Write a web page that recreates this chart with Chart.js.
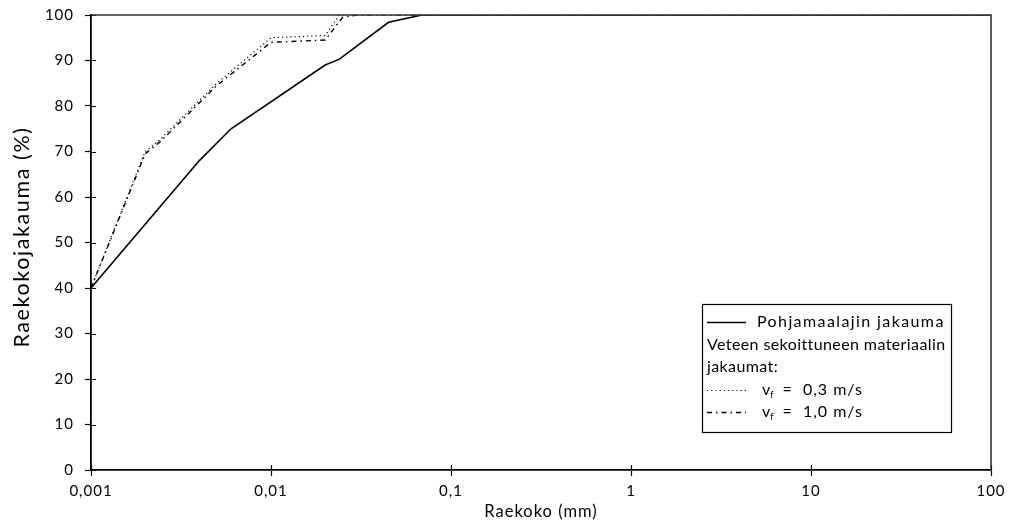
<!DOCTYPE html>
<html>
<head>
<meta charset="utf-8">
<script src="https://cdn.jsdelivr.net/npm/chart.js@4/dist/chart.umd.min.js"></script>
<style>
html,body{margin:0;padding:0;background:#fff;}
#c{display:block;}
</style>
</head>
<body>
<canvas id="c" width="1021" height="530"></canvas>
<script>
// ---- data ----
const xTickValues = [0.001, 0.01, 0.1, 1, 10, 100];
const yTickValues = [0, 10, 20, 30, 40, 50, 60, 70, 80, 90, 100];

const baseSize = [0.001, 0.004, 0.006, 0.02, 0.024, 0.045, 0.069, 100];
const baseCum  = [40, 68, 75, 89, 90.3, 98.4, 100, 100];

const v03Size = [0.001, 0.002, 0.0024, 0.005, 0.01, 0.02, 0.024, 100];
const v03Cum  = [40, 70, 72.5, 85, 95, 95.5, 100, 100];

const v10Size = [0.001, 0.002, 0.0024, 0.005, 0.01, 0.02, 0.025, 0.03, 100];
const v10Cum  = [40, 69.5, 72, 84.5, 94, 94.5, 99.5, 100, 100];

const seriesNames = ['Pohjamaalajin jakauma', 'v = 0,3 m/s', 'v = 1,0 m/s'];
const legendHeading = ['Veteen sekoittuneen materiaalin', 'jakaumat:'];
const yTitle = 'Raekokojakauma (%)';
const xTitle = 'Raekoko (mm)';

const FONT = 'Lato, "Open Sans", sans-serif';

function pts(xs, ys) { return xs.map((x, i) => ({x: x, y: ys[i]})); }
function fmt(v) { return String(v).replace('.', ','); }

const frameTicks = {
  id: 'frameTicks',
  beforeDraw(chart) {
    chart.ctx.letterSpacing = '1px';
  },
  afterDatasetsDraw(chart) {
    const {ctx, chartArea: a, scales} = chart;
    ctx.save();
    ctx.strokeStyle = '#000';
    ctx.lineWidth = 1.2;
    ctx.beginPath();
    yTickValues.forEach(v => {
      const y = Math.round(scales.y.getPixelForValue(v)) + 0.5;
      ctx.moveTo(a.left, y); ctx.lineTo(a.left + 5, y);
    });
    xTickValues.forEach(v => {
      const x = Math.round(scales.x.getPixelForValue(v)) + 0.5;
      ctx.moveTo(x, a.bottom); ctx.lineTo(x, a.bottom - 5);
    });
    ctx.stroke();
    ctx.strokeStyle = '#333';
    ctx.lineWidth = 1.6;
    ctx.beginPath();
    ctx.moveTo(a.left, a.top); ctx.lineTo(a.right, a.top); ctx.lineTo(a.right, a.bottom);
    ctx.stroke();
    ctx.restore();
  },
  afterDraw(chart) {
    const ctx = chart.ctx;
    const ds = chart.data.datasets;
    ctx.save();
    // y axis title
    ctx.save();
    ctx.translate(22, 237);
    ctx.rotate(-Math.PI / 2);
    ctx.font = '21.5px ' + FONT;
    ctx.letterSpacing = '1.6px';
    ctx.textAlign = 'center';
    ctx.textBaseline = 'middle';
    ctx.fillStyle = '#000';
    ctx.fillText(yTitle, 0, 0);
    ctx.restore();

    // legend box
    const bx = 702, by = 304, bw = 249, bh = 128;
    ctx.fillStyle = '#fff';
    ctx.fillRect(bx, by, bw, bh);
    ctx.strokeStyle = '#000';
    ctx.lineWidth = 1.2;
    ctx.strokeRect(bx + 0.5, by + 0.5, bw, bh);
    ctx.font = '16px ' + FONT;
    ctx.fillStyle = '#000';
    ctx.textBaseline = 'middle';
    const sample = (y, d) => {
      ctx.save();
      ctx.strokeStyle = d.borderColor;
      ctx.lineWidth = d.borderWidth;
      ctx.setLineDash(d.borderDash || []);
      ctx.beginPath(); ctx.moveTo(707, y); ctx.lineTo(746, y); ctx.stroke();
      ctx.restore();
    };
    sample(322.5, ds[0]);
    ctx.letterSpacing = '1.4px';
    ctx.fillText(seriesNames[0], 757, 322);
    ctx.letterSpacing = '0.4px';
    ctx.fillText(legendHeading[0], 707, 345);
    ctx.fillText(legendHeading[1], 707, 367);
    const vLine = (y, d, name) => {
      sample(y + 0.5, d);
      const rest = name.slice(1).replace(/ = /, '  =  ');
      ctx.letterSpacing = '1px';
      ctx.fillText('v', 762, y);
      const w = ctx.measureText('v').width;
      ctx.save();
      ctx.font = '9.5px ' + FONT;
      ctx.letterSpacing = '0px';
      ctx.fillText('f', 762 + w - 1, y + 5);
      ctx.restore();
      ctx.fillText(rest, 762 + w + 1, y);
    };
    vLine(390, ds[1], seriesNames[1]);
    vLine(412, ds[2], seriesNames[2]);
    ctx.restore();
    ctx.letterSpacing = '0px';
  }
};

new Chart(document.getElementById('c'), {
  type: 'scatter',
  data: {
    datasets: [
      {label: seriesNames[0], data: pts(baseSize, baseCum), showLine: true,
       borderColor: '#000', borderWidth: 1.6, pointRadius: 0, tension: 0},
      {label: seriesNames[1], data: pts(v03Size, v03Cum), showLine: true,
       borderColor: '#000', borderWidth: 1.2, borderDash: [1.2, 3], pointRadius: 0, tension: 0},
      {label: seriesNames[2], data: pts(v10Size, v10Cum), showLine: true,
       borderColor: '#000', borderWidth: 1.4, borderDash: [5, 4, 1.5, 4], pointRadius: 0, tension: 0}
    ]
  },
  options: {
    responsive: false,
    animation: false,
    devicePixelRatio: 1,
    layout: {padding: {top: 15, right: 30, left: 0, bottom: 0}},
    plugins: {legend: {display: false}, tooltip: {enabled: false}},
    scales: {
      x: {
        type: 'logarithmic', min: 0.001, max: 100,
        afterBuildTicks: s => { s.ticks = xTickValues.map(v => ({value: v})); },
        afterFit: s => { s.height = 60; },
        ticks: {color: '#000', font: {family: FONT, size: 15}, padding: 6, maxRotation: 0,
                callback: v => fmt(v)},
        grid: {drawOnChartArea: false, tickLength: 6, color: '#000', tickWidth: 1.2},
        border: {color: '#000', width: 1.8},
        title: {display: true, text: xTitle, color: '#000',
                font: {family: FONT, size: 16.5}, padding: {top: 0, bottom: 8}}
      },
      y: {
        min: 0, max: 100,
        afterBuildTicks: s => { s.ticks = yTickValues.map(v => ({value: v})); },
        afterFit: s => { s.width = 91; s.paddingTop = 0; s.paddingBottom = 0; },
        ticks: {color: '#000', font: {family: FONT, size: 15}, padding: 11},
        grid: {drawOnChartArea: false, tickLength: 6, color: '#000', tickWidth: 1.2},
        border: {color: '#000', width: 1.8},
        title: {display: false}
      }
    }
  },
  plugins: [frameTicks]
});
</script>
</body>
</html>
